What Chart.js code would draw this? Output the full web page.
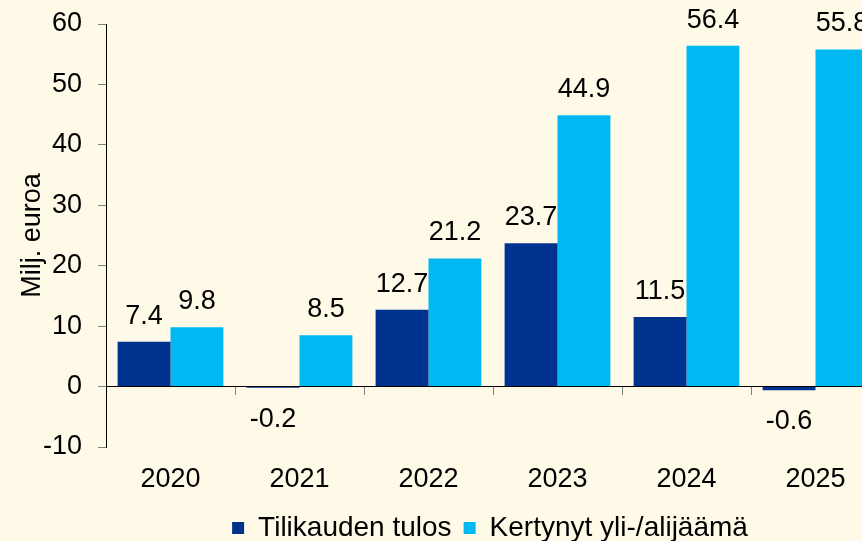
<!DOCTYPE html>
<html>
<head>
<meta charset="utf-8">
<script src="https://cdn.jsdelivr.net/npm/chart.js@4/dist/chart.umd.min.js"></script>
<style>
  html, body { margin: 0; padding: 0; background: #fff9e8; overflow: hidden; }
  #wrap { width: 980px; height: 541px; }
</style>
</head>
<body>
<div id="wrap"><canvas id="chart" width="980" height="541"></canvas></div>
<script>
const years = ['2020', '2021', '2022', '2023', '2024', '2025'];
const tilikaudenTulos = [7.4, -0.2, 12.7, 23.7, 11.5, -0.6];
const kertynytYlijaama = [9.8, 8.5, 21.2, 44.9, 56.4, 55.8];
const seriesNames = ['Tilikauden tulos', 'Kertynyt yli-/alijäämä'];

const FONT = '"Liberation Sans", Arial, sans-serif';

// arvot pylväiden päälle / alle
const valueLabels = {
  id: 'valueLabels',
  afterDatasetsDraw(chart) {
    const ctx = chart.ctx;
    ctx.save();
    ctx.font = '27px ' + FONT;
    ctx.fillStyle = '#000';
    ctx.textAlign = 'center';
    ctx.textBaseline = 'alphabetic';
    chart.data.datasets.forEach((ds, i) => {
      chart.getDatasetMeta(i).data.forEach((bar, j) => {
        const v = ds.data[j];
        const txt = v.toFixed(1);
        if (v >= 0) ctx.fillText(txt, bar.x, bar.y - 18);
        else ctx.fillText(txt, bar.x, bar.y + 39);
      });
    });
    ctx.restore();
  }
};

new Chart(document.getElementById('chart'), {
  type: 'bar',
  data: {
    labels: years,
    datasets: [
      { label: seriesNames[0], data: tilikaudenTulos, backgroundColor: '#00338f', borderWidth: 0 },
      { label: seriesNames[1], data: kertynytYlijaama, backgroundColor: '#00b9f2', borderWidth: 0 }
    ]
  },
  options: {
    responsive: false,
    animation: false,
    devicePixelRatio: 1,
    categoryPercentage: 0.82,
    barPercentage: 1,
    layout: { padding: { top: 24, right: 0, left: 0, bottom: -11 } },
    scales: {
      x: {
        grid: { display: false },
        border: { display: false },
        ticks: { color: '#000', font: { family: FONT, size: 27 }, padding: 8 },
        afterFit: (s) => { s.height = 55; }
      },
      x2: {
        type: 'category',
        labels: years,
        position: { y: 0 },
        ticks: { display: false },
        grid: { offset: true, drawOnChartArea: false, tickLength: 8, color: '#808080' },
        border: { color: '#000', width: 1 }
      },
      y: {
        min: -10,
        max: 60,
        ticks: { stepSize: 10, color: '#000', font: { family: FONT, size: 27 }, padding: 16 },
        grid: { drawOnChartArea: false, tickLength: 8, color: '#808080' },
        border: { color: '#000', width: 1 },
        title: { display: true, text: 'Milj. euroa', color: '#000', font: { family: FONT, size: 27 }, padding: { top: 16, bottom: 0 } },
        afterFit: (s) => { s.width = 106; s.paddingTop = 0; s.paddingBottom = 0; }
      },
      // tyhjä tila oikealla, jotta selite keskittyy koko leveydelle
      yRight: {
        position: 'right',
        ticks: { display: false },
        grid: { display: false },
        border: { display: false },
        afterFit: (s) => { s.width = 100; }
      }
    },
    plugins: {
      legend: {
        position: 'bottom',
        labels: { color: '#000', font: { family: FONT, size: 28 }, boxWidth: 12, boxHeight: 12, padding: 12 }
      },
      tooltip: { enabled: false }
    }
  },
  plugins: [valueLabels]
});
</script>
</body>
</html>
